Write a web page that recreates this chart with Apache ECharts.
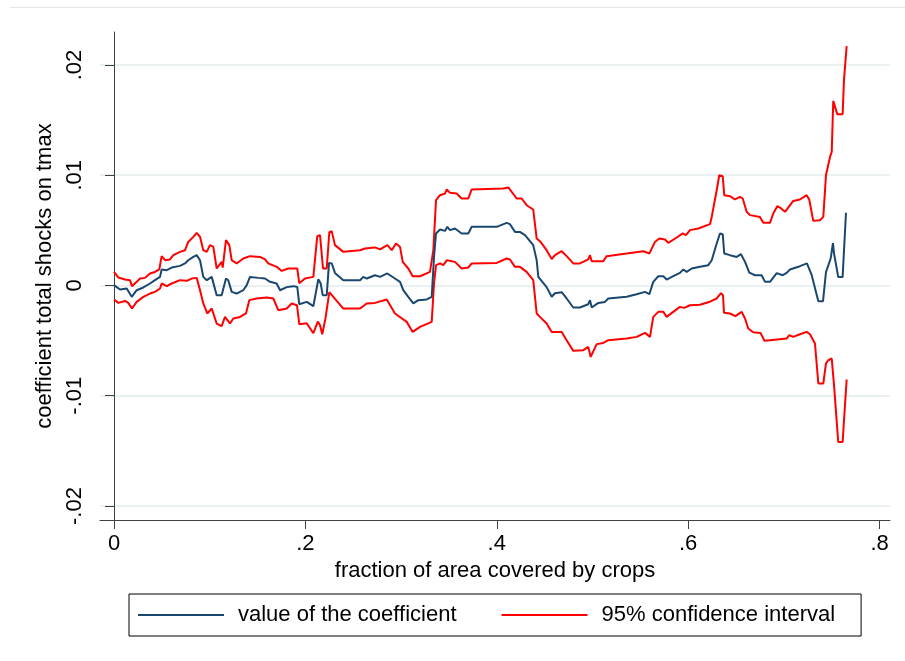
<!DOCTYPE html>
<html>
<head>
<meta charset="utf-8">
<title>Rolling coefficient: total shocks on tmax</title>
<script src="https://cdn.jsdelivr.net/npm/echarts@6/dist/echarts.min.js"></script>
<style>
  html, body { margin: 0; padding: 0; background: #fff; }
  #chart { width: 905px; height: 661px; }
</style>
</head>
<body>
<div id="chart"></div>
<script>
// Tick positions and their labels
const xTicks = [0, 0.2, 0.4, 0.6, 0.8];
const xTickLabels = ['0', '.2', '.4', '.6', '.8'];
const yTicks = [-0.02, -0.01, 0, 0.01, 0.02];
const yTickLabels = ['-.02', '-.01', '0', '.01', '.02'];

// Axis extents (the plot region runs a little past the outer ticks)
const xRange = [-0.01463, 0.8109];
const yRange = [-0.02127, 0.02299];

// Estimated coefficient: [fraction of area covered by crops, coefficient]
const coefficient = [
  [0, 0.00003], [0.0063, -0.00036], [0.0133, -0.00027], [0.0185, -0.00103], [0.0237, -0.00043],
  [0.0306, -0.00018], [0.0376, 0.00018], [0.0428, 0.00048], [0.0481, 0.00078], [0.0498, 0.00145],
  [0.0551, 0.00139], [0.0603, 0.00163], [0.0690, 0.00178], [0.0742, 0.00200], [0.0776, 0.00229],
  [0.0829, 0.00259], [0.0864, 0.00275], [0.0899, 0.00229], [0.0933, 0.00078], [0.0969, 0.00048],
  [0.1021, 0.00078], [0.1073, -0.00088], [0.1125, -0.00088], [0.1170, 0.00063], [0.1194, 0.00048],
  [0.1230, -0.00058], [0.1282, -0.00073], [0.1351, -0.00043], [0.1387, 0.00003], [0.1421, 0.00078],
  [0.1508, 0.00069], [0.1578, 0.00063], [0.1630, 0.00033], [0.1700, 0.00018], [0.1735, -0.00043],
  [0.1805, -0.00015], [0.1874, -0.00006], [0.1915, -0.00013], [0.1936, -0.00170], [0.2014, -0.00149],
  [0.2083, -0.00188], [0.2135, 0.00057], [0.2160, 0.00018], [0.2181, -0.00088], [0.2223, -0.00088],
  [0.2247, 0.00205], [0.2275, 0.00200], [0.2309, 0.00114], [0.2396, 0.00048], [0.2571, 0.00048],
  [0.2605, 0.00078], [0.2641, 0.00063], [0.2727, 0.00093], [0.2780, 0.00078], [0.2856, 0.00109],
  [0.2936, 0.00063], [0.2989, 0.00033], [0.3023, -0.00043], [0.3075, -0.00103], [0.3128, -0.00163],
  [0.3180, -0.00133], [0.3268, -0.00127], [0.3320, -0.00103], [0.3344, 0.00259], [0.3365, 0.00472],
  [0.3407, 0.00508], [0.3459, 0.00495], [0.3483, 0.00532], [0.3511, 0.00502], [0.3563, 0.00517],
  [0.3633, 0.00472], [0.3702, 0.00472], [0.3738, 0.00532], [0.3999, 0.00532], [0.4103, 0.00568],
  [0.4138, 0.00556], [0.4190, 0.00486], [0.4242, 0.00486], [0.4295, 0.00456], [0.4381, 0.00366],
  [0.4417, 0.00229], [0.4434, 0.00078], [0.4451, 0.00063], [0.4521, -0.00015], [0.4574, -0.00102],
  [0.4608, -0.00070], [0.4678, -0.00061], [0.4730, -0.00118], [0.4799, -0.00200], [0.4869, -0.00200],
  [0.4956, -0.00170], [0.4974, -0.00133], [0.4992, -0.00200], [0.5061, -0.00158], [0.5131, -0.00149],
  [0.5165, -0.00118], [0.5357, -0.00103], [0.5462, -0.00079], [0.5549, -0.00058], [0.5594, -0.00079],
  [0.5635, 0.00033], [0.5688, 0.00084], [0.5740, 0.00084], [0.5775, 0.00054], [0.5844, 0.00084],
  [0.5914, 0.00114], [0.5949, 0.00145], [0.5984, 0.00123], [0.6037, 0.00154], [0.6123, 0.00169],
  [0.6210, 0.00184], [0.6246, 0.00229], [0.6298, 0.00381], [0.6332, 0.00472], [0.6361, 0.00465],
  [0.6377, 0.00290], [0.6437, 0.00275], [0.6507, 0.00259], [0.6552, 0.00284], [0.6594, 0.00214],
  [0.6639, 0.00116], [0.6698, 0.00093], [0.6768, 0.00093], [0.6803, 0.00033], [0.6855, 0.00033],
  [0.6925, 0.00112], [0.6988, 0.00093], [0.7029, 0.00114], [0.7064, 0.00145], [0.7168, 0.00175],
  [0.7241, 0.00200], [0.7291, 0.00093], [0.7360, -0.00142], [0.7409, -0.00142], [0.7440, 0.00121],
  [0.7489, 0.00245], [0.7513, 0.00384], [0.7524, 0.00290], [0.7568, 0.00078], [0.7614, 0.00078],
  [0.7649, 0.00659]
];

// Upper bound of the 95% confidence interval
const upperBound = [
  [0, 0.00123], [0.0045, 0.00073], [0.0115, 0.00054], [0.0167, 0.00048], [0.0188, -0.00006],
  [0.0237, 0.00033], [0.0272, 0.00063], [0.0324, 0.00069], [0.0376, 0.00109], [0.0428, 0.00123],
  [0.0473, 0.00145], [0.0498, 0.00266], [0.0533, 0.00229], [0.0585, 0.00236], [0.0620, 0.00275],
  [0.0690, 0.00305], [0.0742, 0.00320], [0.0776, 0.00395], [0.0829, 0.00441], [0.0864, 0.00477],
  [0.0899, 0.00441], [0.0933, 0.00320], [0.0969, 0.00305], [0.1003, 0.00366], [0.1038, 0.00350],
  [0.1073, 0.00154], [0.1125, 0.00214], [0.1136, 0.00163], [0.1170, 0.00411], [0.1205, 0.00366],
  [0.1230, 0.00229], [0.1282, 0.00200], [0.1351, 0.00245], [0.1421, 0.00266], [0.1526, 0.00259],
  [0.1578, 0.00236], [0.1612, 0.00200], [0.1700, 0.00169], [0.1752, 0.00132], [0.1821, 0.00154],
  [0.1915, 0.00154], [0.1936, 0.00021], [0.1996, 0.00063], [0.2083, 0.00078], [0.2124, 0.00447],
  [0.2153, 0.00456], [0.2184, 0.00154], [0.2223, 0.00154], [0.2250, 0.00483], [0.2275, 0.00493],
  [0.2309, 0.00366], [0.2396, 0.00305], [0.2571, 0.00320], [0.2623, 0.00336], [0.2727, 0.00345],
  [0.2780, 0.00327], [0.2856, 0.00366], [0.2902, 0.00320], [0.2947, 0.00381], [0.2989, 0.00350],
  [0.3017, 0.00214], [0.3075, 0.00154], [0.3121, 0.00084], [0.3198, 0.00084], [0.3302, 0.00123],
  [0.3337, 0.00320], [0.3365, 0.00774], [0.3407, 0.00819], [0.3459, 0.00834], [0.3477, 0.00871],
  [0.3511, 0.00840], [0.3581, 0.00834], [0.3633, 0.00789], [0.3702, 0.00789], [0.3738, 0.00871],
  [0.4068, 0.00880], [0.4120, 0.00889], [0.4208, 0.00789], [0.4260, 0.00789], [0.4312, 0.00728],
  [0.4381, 0.00689], [0.4417, 0.00426], [0.4451, 0.00402], [0.4521, 0.00320], [0.4574, 0.00239],
  [0.4608, 0.00275], [0.4678, 0.00311], [0.4730, 0.00266], [0.4799, 0.00200], [0.4869, 0.00200],
  [0.4956, 0.00236], [0.4974, 0.00275], [0.4992, 0.00220], [0.5113, 0.00220], [0.5148, 0.00266],
  [0.5357, 0.00290], [0.5531, 0.00311], [0.5594, 0.00290], [0.5653, 0.00395], [0.5698, 0.00426],
  [0.5758, 0.00417], [0.5792, 0.00386], [0.5880, 0.00435], [0.5943, 0.00472], [0.5977, 0.00456],
  [0.6019, 0.00502], [0.6106, 0.00517], [0.6228, 0.00556], [0.6246, 0.00622], [0.6298, 0.00864],
  [0.6325, 0.01000], [0.6361, 0.00991], [0.6377, 0.00819], [0.6437, 0.00810], [0.6489, 0.00780],
  [0.6541, 0.00804], [0.6570, 0.00789], [0.6611, 0.00668], [0.6646, 0.00638], [0.6750, 0.00622],
  [0.6785, 0.00568], [0.6855, 0.00568], [0.6889, 0.00653], [0.6931, 0.00719], [0.6959, 0.00707],
  [0.7012, 0.00668], [0.7098, 0.00767], [0.7168, 0.00780], [0.7238, 0.00819], [0.7265, 0.00780],
  [0.7307, 0.00586], [0.7377, 0.00592], [0.7412, 0.00622], [0.7440, 0.01000], [0.7482, 0.01166],
  [0.7500, 0.01212], [0.7516, 0.01674], [0.7558, 0.01554], [0.7614, 0.01554], [0.7628, 0.01862],
  [0.7656, 0.02171]
];

// Lower bound of the 95% confidence interval
const lowerBound = [
  [0, -0.00127], [0.0045, -0.00158], [0.0115, -0.00140], [0.0149, -0.00158], [0.0188, -0.00209],
  [0.0237, -0.00149], [0.0306, -0.00103], [0.0376, -0.00073], [0.0428, -0.00058], [0.0481, -0.00027],
  [0.0498, 0.00018], [0.0551, -0.00006], [0.0603, 0.00018], [0.0690, 0.00048], [0.0760, 0.00042],
  [0.0812, 0.00063], [0.0864, 0.00069], [0.0899, -0.00043], [0.0933, -0.00163], [0.0975, -0.00254],
  [0.1021, -0.00209], [0.1073, -0.00345], [0.1125, -0.00369], [0.1160, -0.00285], [0.1212, -0.00345],
  [0.1247, -0.00299], [0.1317, -0.00285], [0.1379, -0.00254], [0.1414, -0.00133], [0.1491, -0.00118],
  [0.1596, -0.00109], [0.1665, -0.00118], [0.1717, -0.00224], [0.1805, -0.00209], [0.1857, -0.00163],
  [0.1912, -0.00179], [0.1936, -0.00351], [0.2014, -0.00342], [0.2083, -0.00433], [0.2100, -0.00442],
  [0.2130, -0.00328], [0.2153, -0.00360], [0.2176, -0.00442], [0.2210, -0.00297], [0.2250, -0.00061],
  [0.2292, -0.00103], [0.2396, -0.00209], [0.2571, -0.00209], [0.2641, -0.00163], [0.2727, -0.00158],
  [0.2850, -0.00127], [0.2936, -0.00254], [0.3059, -0.00330], [0.3121, -0.00421], [0.3198, -0.00376],
  [0.3320, -0.00330], [0.3344, 0.00018], [0.3365, 0.00184], [0.3407, 0.00200], [0.3441, 0.00184],
  [0.3477, 0.00229], [0.3563, 0.00214], [0.3633, 0.00154], [0.3702, 0.00163], [0.3738, 0.00200],
  [0.3999, 0.00205], [0.4103, 0.00245], [0.4138, 0.00236], [0.4190, 0.00169], [0.4242, 0.00169],
  [0.4312, 0.00123], [0.4381, 0.00048], [0.4417, -0.00254], [0.4451, -0.00285], [0.4521, -0.00345],
  [0.4574, -0.00421], [0.4678, -0.00421], [0.4730, -0.00496], [0.4799, -0.00593], [0.4904, -0.00587],
  [0.4956, -0.00557], [0.4981, -0.00648], [0.5044, -0.00532], [0.5113, -0.00521], [0.5165, -0.00496],
  [0.5357, -0.00481], [0.5462, -0.00466], [0.5549, -0.00430], [0.5601, -0.00466], [0.5635, -0.00285],
  [0.5688, -0.00239], [0.5740, -0.00239], [0.5775, -0.00285], [0.5844, -0.00239], [0.5914, -0.00194],
  [0.5959, -0.00203], [0.6019, -0.00179], [0.6123, -0.00174], [0.6228, -0.00147], [0.6298, -0.00118],
  [0.6343, -0.00070], [0.6364, -0.00088], [0.6374, -0.00247], [0.6437, -0.00254], [0.6494, -0.00278],
  [0.6559, -0.00239], [0.6594, -0.00299], [0.6628, -0.00390], [0.6680, -0.00424], [0.6756, -0.00430],
  [0.6797, -0.00501], [0.6855, -0.00496], [0.7029, -0.00481], [0.7056, -0.00451], [0.7098, -0.00466],
  [0.7168, -0.00442], [0.7238, -0.00421], [0.7273, -0.00442], [0.7325, -0.00526], [0.7360, -0.00889],
  [0.7412, -0.00889], [0.7440, -0.00707], [0.7464, -0.00678], [0.7500, -0.00662], [0.7524, -0.00904],
  [0.7568, -0.01419], [0.7614, -0.01419], [0.7656, -0.00853]
];

const COEF_NAME = 'value of the coefficient';
const CI_NAME = '95% confidence interval';
const NAVY = '#1a476f';
const RED = '#ff0000';
const AXIS = '#404040';
const GRID = '#e9f1f3';
const FONT = '"Liberation Sans", Arial, sans-serif';

function tickLabel(values, labels) {
  return function (v) {
    for (let i = 0; i < values.length; i++) {
      if (Math.abs(values[i] - v) < 1e-9) return labels[i];
    }
    return '';
  };
}

const chart = echarts.init(document.getElementById('chart'), null, { renderer: 'canvas' });

chart.setOption({
  animation: false,
  backgroundColor: '#ffffff',
  textStyle: { fontFamily: FONT, color: '#000' },
  graphic: [{
    type: 'line',
    shape: { x1: 10, y1: 7.5, x2: 905, y2: 7.5 },
    style: { stroke: '#e6e6e6', lineWidth: 1 },
    silent: true
  }],
  grid: { left: 100, right: 15, top: 32, bottom: 141, containLabel: false },
  xAxis: {
    type: 'value',
    min: xRange[0],
    max: xRange[1],
    axisLine: { show: true, onZero: false, lineStyle: { color: AXIS, width: 1 } },
    axisTick: { show: true, customValues: xTicks, length: 9, lineStyle: { color: AXIS, width: 1 } },
    axisLabel: {
      customValues: xTicks,
      formatter: tickLabel(xTicks, xTickLabels),
      fontSize: 22, color: '#000', fontFamily: FONT, margin: 13
    },
    splitLine: { show: false },
    name: 'fraction of area covered by crops',
    nameLocation: 'middle',
    nameGap: 38,
    nameTextStyle: { fontSize: 22, color: '#000', fontFamily: FONT }
  },
  yAxis: {
    type: 'value',
    min: yRange[0],
    max: yRange[1],
    axisLine: { show: true, lineStyle: { color: AXIS, width: 1 } },
    axisTick: { show: true, customValues: yTicks, length: 9, lineStyle: { color: AXIS, width: 1 } },
    axisLabel: {
      customValues: yTicks,
      rotate: 90,
      formatter: tickLabel(yTicks, yTickLabels),
      fontSize: 22, color: '#000', fontFamily: FONT, margin: 14
    },
    splitLine: { show: true, lineStyle: { color: GRID, width: 2 } },
    name: 'coefficient total shocks on tmax',
    nameLocation: 'middle',
    nameRotate: 90,
    nameGap: 42,
    nameTextStyle: { fontSize: 22, color: '#000', fontFamily: FONT }
  },
  legend: {
    left: 129,
    top: 594,
    orient: 'horizontal',
    data: [
      { name: COEF_NAME, icon: 'rect' },
      { name: CI_NAME, icon: 'rect' }
    ],
    itemWidth: 86,
    itemHeight: 2,
    itemGap: 45,
    borderColor: '#000',
    borderWidth: 1,
    padding: [10, 26, 10, 9],
    textStyle: { fontSize: 22, color: '#000', fontFamily: FONT, padding: [0, 0, 0, 9] },
    selectedMode: false
  },
  series: [
    {
      name: COEF_NAME, type: 'line', data: coefficient, showSymbol: false, symbol: 'none',
      lineStyle: { color: NAVY, width: 2 }, itemStyle: { color: NAVY }, z: 3
    },
    {
      name: CI_NAME, type: 'line', data: upperBound, showSymbol: false, symbol: 'none',
      lineStyle: { color: RED, width: 2 }, itemStyle: { color: RED }, z: 2
    },
    {
      name: CI_NAME, type: 'line', data: lowerBound, showSymbol: false, symbol: 'none',
      lineStyle: { color: RED, width: 2 }, itemStyle: { color: RED }, z: 2
    }
  ]
});
</script>
</body>
</html>
